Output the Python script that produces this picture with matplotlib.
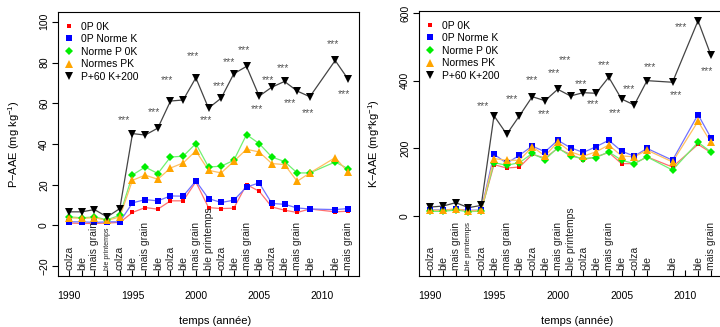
import matplotlib
matplotlib.use('Agg')
import matplotlib.pyplot as plt
import matplotlib.transforms as mtransforms
from matplotlib.lines import Line2D

plt.rcParams['font.family'] = ['Liberation Sans', 'DejaVu Sans']
plt.rcParams['mathtext.fontset'] = 'custom'
plt.rcParams['mathtext.rm'] = 'Liberation Sans'
plt.rcParams['mathtext.default'] = 'regular'

# ---------------- data: left panel (P-AAE) ----------------
years_P = [1990, 1991, 1992, 1993, 1994, 1995, 1996, 1997, 1998, 1999, 2000,
           2001, 2002, 2003, 2004, 2005, 2006, 2007, 2008, 2009, 2011, 2012]
P_0P0K = [1.2, 1.0, 1.0, 1.2, 1.5, 6.4, 8.8, 8.0, 12.1, 12.1, 21.4,
          8.8, 8.3, 8.5, 20.1, 16.8, 9.1, 7.5, 6.4, 8.1, 6.7, 7.0]
P_0PNK = [1.8, 1.8, 1.5, 1.8, 1.8, 11.1, 12.7, 12.1, 14.5, 14.4, 21.9,
          13.2, 11.3, 12.4, 18.9, 20.9, 10.8, 10.4, 8.6, 8.1, 7.8, 8.3]
P_NP0K = [4.2, 3.8, 4.2, 2.8, 5.0, 24.8, 28.7, 25.5, 33.6, 34.0, 40.2,
          28.7, 29.1, 32.0, 44.6, 40.2, 33.6, 31.4, 25.8, 25.8, 31.2, 27.9]
P_NPK = [3.8, 3.5, 3.8, 2.5, 4.2, 22.2, 24.7, 22.7, 28.2, 30.7, 36.6,
         27.1, 25.8, 31.5, 37.4, 36.1, 30.4, 29.9, 21.7, 25.8, 33.3, 26.3]
P_P60K200 = [6.7, 6.7, 7.8, 4.2, 8.3, 45.1, 44.4, 47.8, 61.1, 61.6, 72.5,
             57.6, 62.5, 74.5, 78.1, 63.5, 67.9, 70.7, 66.0, 63.2, 81.0, 72.0]
crops_P = ['colza', 'ble', 'mais grain', 'ble printemps', 'colza', 'ble',
           'mais grain', 'ble', 'colza', 'ble', 'mais grain', 'ble printemps',
           'colza', 'ble', 'mais grain', 'ble', 'colza', 'ble', 'mais grain',
           'ble', 'ble', 'mais grain']
stars_P_x = [1994.3, 1996.7, 1997.7, 1999.8, 2000.8, 2001.8, 2002.6, 2003.8,
             2004.8, 2005.7, 2006.9, 2007.45, 2008.85, 2010.85, 2011.7]
stars_P_y = [53, 57, 72.7, 84.5, 53, 69.7, 81.5, 87.6, 58.5, 72.7, 78.6,
             61.4, 56.5, 90.3, 65.8]

# ---------------- data: right panel (K-AAE) ----------------
years_K = [1990, 1991, 1992, 1993, 1994, 1995, 1996, 1997, 1998, 1999, 2000,
           2001, 2002, 2003, 2004, 2005, 2006, 2007, 2009, 2011, 2012]
K_0P0K = [16, 16, 20, 15, 16, 152, 142, 145, 182, 172, 200,
          182, 167, 175, 188, 155, 155, 175, 145, 212, 188]
K_0PNK = [18, 18, 20, 17, 18, 183, 156, 180, 207, 190, 224,
          202, 188, 205, 224, 192, 177, 200, 165, 300, 232]
K_NP0K = [14, 14, 18, 13, 15, 158, 150, 158, 185, 167, 202,
          177, 170, 173, 190, 165, 155, 175, 136, 218, 190]
K_NPK = [17, 17, 22, 15, 17, 170, 165, 165, 205, 178, 219,
         190, 177, 190, 210, 178, 175, 195, 160, 280, 219]
K_P60K200 = [26.7, 29.6, 39.7, 24.9, 31.7, 296.5, 242, 296.5, 352.8, 341, 374.7,
             354.9, 364.7, 362.9, 410.3, 346, 328.2, 400.2, 395.5, 577.2, 476.4]
crops_K = ['colza', 'ble', 'mais grain', 'ble printemps', 'colza', 'ble',
           'mais grain', 'ble', 'colza', 'ble', 'mais grain', 'ble printemps',
           'colza', 'ble', 'mais grain', 'ble', 'colza', 'ble',
           'ble', 'ble', 'mais grain']
stars_K_x = [1994.1, 1996.4, 1998.0, 1998.9, 1999.7, 2000.6, 2001.8, 2002.8,
             2003.6, 2004.5, 2005.6, 2007.2, 2009.3, 2009.7, 2011.7]
stars_K_y = [335, 356, 410, 311, 430, 470, 400, 341, 454, 313, 385, 450,
             366, 567, 437]

series_names = ['0P 0K', '0P Norme K', 'Norme P 0K', 'Normes PK', 'P+60 K+200']
colors = ['#FF0000', '#0000FF', '#00EE00', '#FFA500', '#000000']
line_colors = ['#FF7070', '#7070FF', '#70F070', '#FFC060', '#444444']
markers = ['s', 's', 'D', '^', 'v']
msizes = [3.0, 4.6, 3.8, 5.4, 5.8]
year_ticks = [1990, 1995, 2000, 2005, 2010]

fig = plt.figure(figsize=(7.2, 3.27), dpi=100)
W, H = 720.0, 327.0
axL = fig.add_axes([58 / W, (H - 276) / H, 301 / W, 264 / H])
axR = fig.add_axes([419 / W, (H - 276) / H, 303 / W, 265 / H])


def draw_panel(ax, years, series, crops, small_size, stars_x, stars_y,
               ylim, yticks):
    for vals, c, lc, m, ms, name in zip(series, colors, line_colors, markers,
                                        msizes, series_names):
        ax.plot(years, vals, color=lc, lw=0.9, zorder=2)
        ax.plot(years, vals, ls='none', marker=m, ms=ms, color=c,
                markeredgewidth=0, zorder=3, label=name)
    ax.set_xlim(1989.12, 2012.88)
    ax.set_ylim(*ylim)
    ax.set_yticks(yticks)
    ax.set_xticks(year_ticks)
    ax.set_xticks(years, minor=True)
    ax.tick_params(axis='x', which='both', direction='in', length=4.4,
                   width=0.8, labelsize=7.5, pad=10.5)
    ax.tick_params(axis='y', direction='out', length=4.4, width=0.8,
                   labelsize=7.5, labelrotation=90, pad=2)
    for lab in ax.get_yticklabels():
        lab.set_va('center')
    for s in ax.spines.values():
        s.set_linewidth(0.8)
    trans = mtransforms.blended_transform_factory(ax.transData, ax.transAxes)
    for yr, crop in zip(years, crops):
        fs = small_size if yr == 1993 else 7.5
        ax.text(yr, 0.024, crop, transform=trans, rotation=90, ha='center',
                va='bottom', fontsize=fs, color='#222222')
    strans = mtransforms.offset_copy(ax.transData, fig=fig, x=0, y=-3,
                                     units='dots')
    for sx, sy in zip(stars_x, stars_y):
        ax.text(sx, sy, '***', transform=strans, ha='center', va='center',
                fontsize=7.5, color='#555555')
    handles = [Line2D([], [], ls='none', marker=m, ms=ms, color=c,
                      markeredgewidth=0)
               for c, m, ms in zip(colors, markers, msizes)]
    ax.legend(handles, series_names, loc='upper left',
              bbox_to_anchor=(0.02, 0.964), frameon=False, fontsize=7.5,
              handlelength=0.9, handletextpad=0.75, labelspacing=0.25,
              borderpad=0, borderaxespad=0)


draw_panel(axL, years_P, [P_0P0K, P_0PNK, P_NP0K, P_NPK, P_P60K200], crops_P,
           5.0, stars_P_x, stars_P_y, (-24.8, 104.8),
           [-20, 0, 20, 40, 60, 80, 100])
draw_panel(axR, years_K, [K_0P0K, K_0PNK, K_NP0K, K_NPK, K_P60K200], crops_K,
           5.8, stars_K_x, stars_K_y, (-177, 606), [0, 200, 400, 600])

fig.text(14 / W, 1 - 144 / H, 'P\u2212AAE (mg kg$^{-1}$)', rotation=90,
         ha='center', va='center', fontsize=8)
fig.text(374 / W, 1 - 144 / H, 'K\u2212AAE (mg*kg$^{-1}$)', rotation=90,
         ha='center', va='center', fontsize=8)
fig.text(215 / W, 1 - 321.5 / H, 'temps (année)', ha='center', va='center',
         fontsize=8)
fig.text(577 / W, 1 - 321.5 / H, 'temps (année)', ha='center', va='center',
         fontsize=8)

fig.savefig('out.png', dpi=100)
